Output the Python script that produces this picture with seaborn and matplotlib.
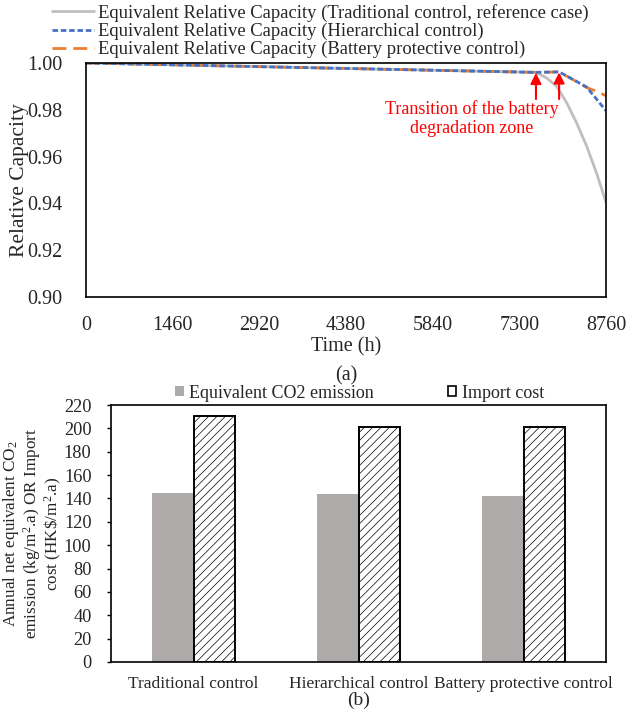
import numpy as np
import pandas as pd
import matplotlib
matplotlib.use("Agg")
import matplotlib.pyplot as plt
from matplotlib.patches import Patch
import seaborn as sns
from matplotlib.ticker import FormatStrFormatter

sns.set_theme(style="white")
plt.rcParams["font.family"] = ["Liberation Serif", "DejaVu Serif"]
plt.rcParams["mathtext.fontset"] = "custom"
plt.rcParams["mathtext.rm"] = "Liberation Serif"
plt.rcParams["mathtext.it"] = "Liberation Serif:italic"
plt.rcParams["hatch.linewidth"] = 0.5

# ---- (a) equivalent relative capacity over one year ----
t_traditional = [0, 3940, 7580, 7760, 7930, 8100, 8265, 8435, 8600, 8760]
cap_traditional = [1.0, 0.9979, 0.9960, 0.9936, 0.9900, 0.9829, 0.9744, 0.9644, 0.9530, 0.9405]

t_hierarchical = [0, 3940, 7580, 7970, 8210, 8435, 8760]
cap_hierarchical = [1.0, 0.9979, 0.9960, 0.9962, 0.9929, 0.9897, 0.9796]

t_protective = [0, 3940, 7580, 7970, 8210, 8435, 8600, 8760]
cap_protective = [1.0, 0.9979, 0.9960, 0.9962, 0.9928, 0.9895, 0.9879, 0.9860]

transition_times = [7580, 7970]
transition_caps = [0.9960, 0.9962]

time_ticks = [0, 1460, 2920, 4380, 5840, 7300, 8760]
cap_ticks = [0.90, 0.92, 0.94, 0.96, 0.98, 1.00]

# ---- (b) annual emission and import cost ----
strategies = ["Traditional control", "Hierarchical control", "Battery protective control"]
co2_emission = [144.5, 143.5, 142.5]
import_cost = [210.8, 201.2, 201.0]
bar_ticks = list(range(0, 221, 20))

fig = plt.figure(figsize=(6.29, 7.14), dpi=100)
ax1 = fig.add_axes([86 / 629, 1 - 297 / 714, 520 / 629, 234 / 714])
ax2 = fig.add_axes([111 / 629, 1 - 662 / 714, 495 / 629, 257 / 714])

grey, blue, orange = "#bfbfbf", "#4472c4", "#ed7d31"

sns.lineplot(x=t_traditional, y=cap_traditional, ax=ax1, color=grey, lw=2.0,
             label="Equivalent Relative Capacity (Traditional control, reference case)")
sns.lineplot(x=t_protective, y=cap_protective, ax=ax1, color=orange, lw=2.0,
             label="Equivalent Relative Capacity (Battery protective control)")
sns.lineplot(x=t_hierarchical, y=cap_hierarchical, ax=ax1, color=blue, lw=2.0,
             label="Equivalent Relative Capacity (Hierarchical control)")
lines = ax1.get_lines()
lines[1].set_dashes([5, 2.5])
lines[2].set_dashes([2, 1])

ax1.set_xlim(0, 8760)
ax1.set_ylim(0.90, 1.00)
ax1.set_xticks(time_ticks)
ax1.set_yticks(cap_ticks)
ax1.yaxis.set_major_formatter(FormatStrFormatter("%.2f"))
ax1.tick_params(axis="x", direction="in", length=3, width=1, pad=14, labelsize=14.5, color="black")
ax1.tick_params(axis="y", length=0, pad=17, labelsize=14.5)
ax1.set_xlabel("Time (h)\n(a)", fontsize=14.5, labelpad=1, linespacing=1.7)
ax1.set_ylabel("Relative Capacity", fontsize=15.5)
ax1.yaxis.set_label_coords(-0.11, 0.5)
for s in ax1.spines.values():
    s.set_color("black")
    s.set_linewidth(1.2)

for tx, cy in zip(transition_times, transition_caps):
    ax1.annotate("", xy=(tx, cy - 0.0002), xytext=(tx, 0.9846),
                 arrowprops=dict(arrowstyle="-|>", color="red", lw=1.5,
                                 mutation_scale=16, shrinkA=0, shrinkB=0))
ax1.text(6500, 0.9763, "Transition of the battery\ndegradation zone", color="red",
         fontsize=13, ha="center", va="center", linespacing=1.2, multialignment="center")

h, lab = ax1.get_legend_handles_labels()
order = [0, 2, 1]
ax1.legend([h[i] for i in order], [lab[i] for i in order], loc="upper left",
           bbox_to_anchor=(52 / 629, 1 - 4 / 714), bbox_transform=fig.transFigure,
           frameon=False, fontsize=13.4, handlelength=2.25, handletextpad=0.2,
           labelspacing=0.05, borderaxespad=0.0, borderpad=0.0)

# ---- bar chart ----
df = pd.DataFrame({
    "strategy": strategies * 2,
    "value": co2_emission + import_cost,
    "metric": ["Equivalent CO2 emission"] * 3 + ["Import cost"] * 3,
})
sns.barplot(data=df, x="strategy", y="value", hue="metric", ax=ax2, width=0.5,
            palette={"Equivalent CO2 emission": "#aeaaaa", "Import cost": "white"},
            saturation=1, errorbar=None, legend=False)
for bar in ax2.containers[1]:
    bar.set_hatch("////")
    bar.set_edgecolor("black")
    bar.set_linewidth(1.4)
for bar in ax2.containers[0]:
    bar.set_edgecolor("none")

ax2.set_ylim(0, 220)
ax2.set_yticks(bar_ticks)
ax2.tick_params(axis="y", direction="out", length=3, width=1, pad=11, labelsize=13.2, left=True, color="black")
ax2.tick_params(axis="x", length=0, pad=10, labelsize=12.5)
ax2.set_xlabel("(b)", fontsize=14, labelpad=0)
ax2.set_ylabel("Annual net equivalent CO$_2$\nemission (kg/m$^2$.a) OR Import\ncost (HK\\$/m$^2$.a)",
               fontsize=12.3, linespacing=1.0)
ax2.yaxis.set_label_coords(-0.095, 0.5)
for s in ax2.spines.values():
    s.set_color("black")
    s.set_linewidth(1.2)

legend_handles = [Patch(facecolor="#aeaaaa", edgecolor="none"),
                  Patch(facecolor="white", edgecolor="black", linewidth=1.2)]
ax2.legend(legend_handles, ["Equivalent CO2 emission", "Import cost"],
           loc="center", bbox_to_anchor=(360 / 629, 1 - 393 / 714), bbox_transform=fig.transFigure,
           ncol=2, frameon=False, fontsize=13, handlelength=0.45, handleheight=0.45,
           handletextpad=0.33, columnspacing=4.1, borderaxespad=0, borderpad=0)

fig.savefig("out.png", dpi=100)
